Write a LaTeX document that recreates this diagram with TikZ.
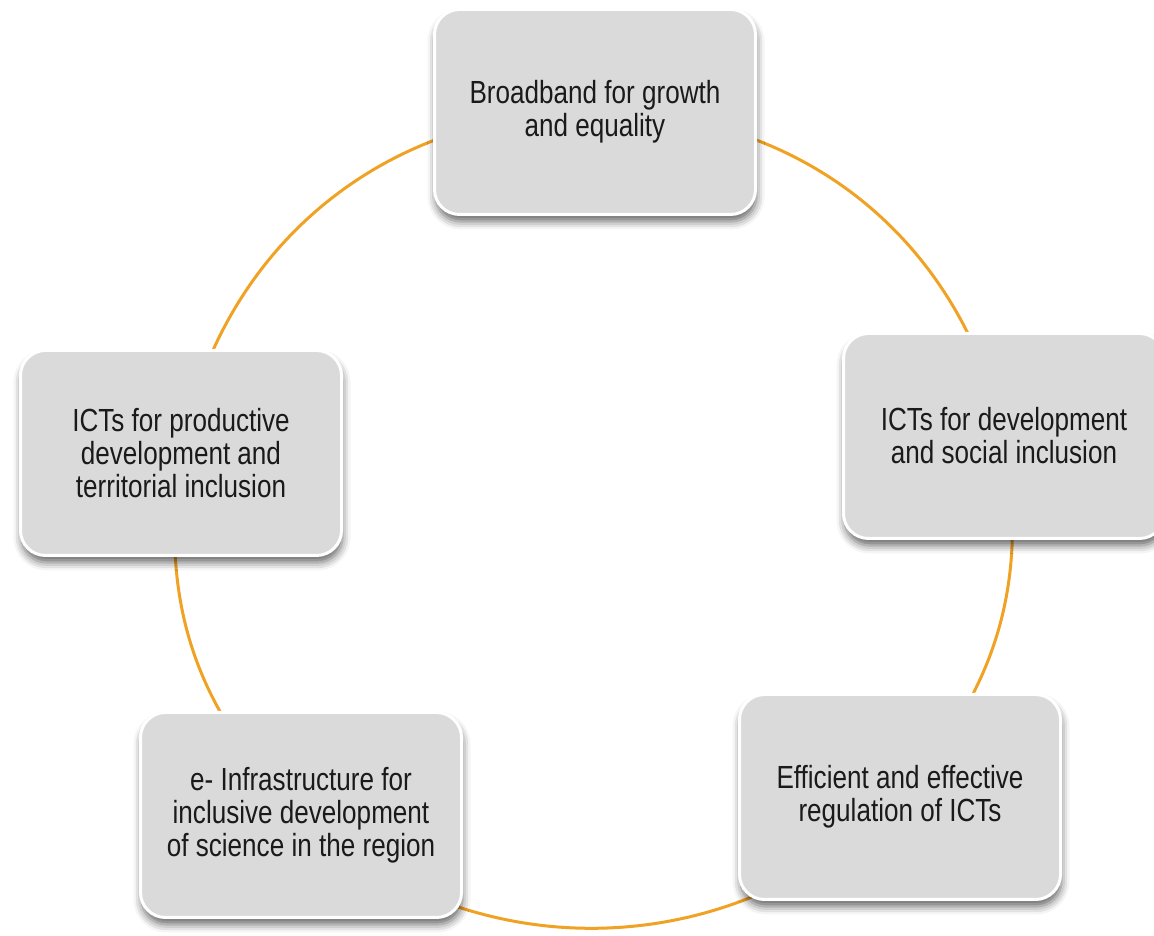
\documentclass[tikz,border=0pt]{standalone}
\usepackage{fontspec}
\setmainfont[FakeStretch=0.815]{Liberation Sans}
\usetikzlibrary{shadows.blur,backgrounds}
\definecolor{cy_gray}{RGB}{218, 218, 218}
\definecolor{cy_orange}{RGB}{240, 162, 36}
\definecolor{cy_text}{RGB}{26, 26, 26}
\tikzstyle{gb}=[rectangle,rounded corners=25pt,fill=cy_gray,draw=white,
  line width=3pt,minimum width=321pt,minimum height=205pt,align=center,
  text=cy_text,font=\fontsize{32}{33}\selectfont,
  blur shadow={shadow xshift=1pt,shadow yshift=-7pt,shadow blur radius=8pt,shadow opacity=60}]
\tikzstyle{ol}=[draw=cy_orange,line width=3pt]

\begin{document}
\begin{tikzpicture}[x=1pt, y=1pt]
    \useasboundingbox (0, 0) rectangle (1154, 936);
    \node [style=gb] (1) at (595, 824) {Broadband for growth\\and equality};
    \node [style=gb] (2) at (1004, 500) {ICTs for development\\and social inclusion};
    \node [style=gb] (3) at (900, 139) {Efficient and effective\\regulation of ICTs};
    \node [style=gb] (4) at (301, 121) {e- Infrastructure for\\inclusive development\\of science in the region};
    \node [style=gb] (5) at (181, 483) {ICTs for productive\\development and\\territorial inclusion};
    \begin{scope}[on background layer]
      \draw [style=ol] (1.center) to [bend left=39] (2.center);
      \draw [style=ol] (2.center) to [bend left=26] (3.center);
      \draw [style=ol] (3.center) to [bend left=44] (4.center);
      \draw [style=ol] (4.center) to [bend left=27] (5.center);
      \draw [style=ol] (5.center) to [bend left=40] (1.center);
    \end{scope}
\end{tikzpicture}
\end{document}
